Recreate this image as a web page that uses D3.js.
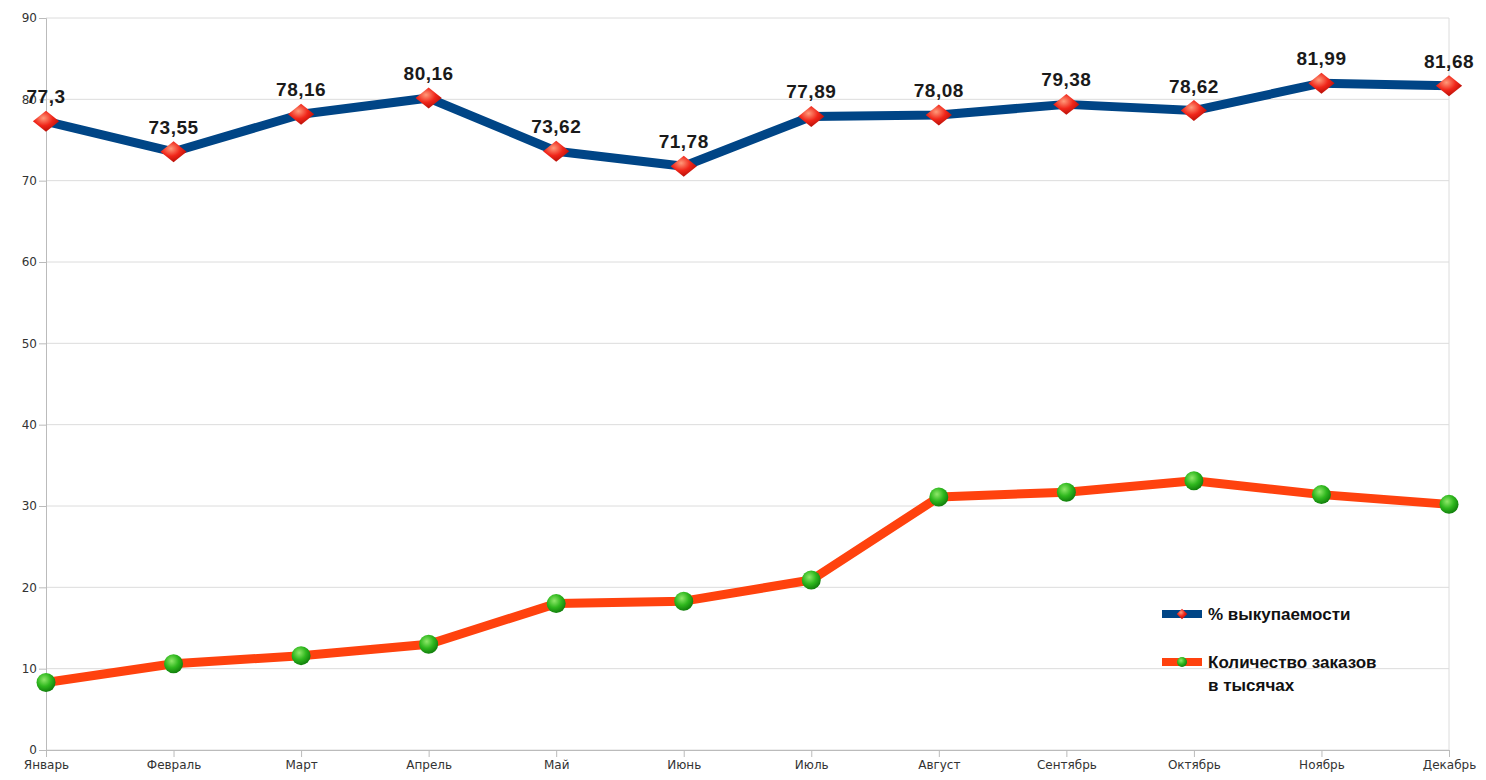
<!DOCTYPE html>
<html>
<head>
<meta charset="utf-8">
<script src="https://cdn.jsdelivr.net/npm/d3@7"></script>
<style>
  body { margin: 0; background: #fff; }
  svg { display: block; }
  .tick text { font-family: 'DejaVu Sans', sans-serif; font-size: 12px; fill: #333; }
  .value-label { font-family: 'Liberation Sans', 'DejaVu Sans', sans-serif; font-size: 19px; font-weight: bold; fill: #1a1a1a; letter-spacing: 0.5px; }
  .legend-label { font-family: 'Liberation Sans', 'DejaVu Sans', sans-serif; font-size: 17px; font-weight: bold; fill: #111; }
</style>
</head>
<body>
<svg width="1486" height="780"></svg>
<script>
const months = ['Январь', 'Февраль', 'Март', 'Апрель', 'Май', 'Июнь', 'Июль', 'Август', 'Сентябрь', 'Октябрь', 'Ноябрь', 'Декабрь']
const buyoutPct = [77.3, 73.55, 78.16, 80.16, 73.62, 71.78, 77.89, 78.08, 79.38, 78.62, 81.99, 81.68]
const ordersK = [8.3, 10.6, 11.6, 13.0, 18.0, 18.3, 20.9, 31.1, 31.7, 33.1, 31.4, 30.2]
const yTicks = [0, 10, 20, 30, 40, 50, 60, 70, 80, 90]
const seriesNames = ['% выкупаемости', 'Количество заказов', 'в тысячах']

const svg = d3.select('svg')
const margin = {left: 46, right: 37, top: 18, bottom: 30}
const width = +svg.attr('width')
const height = +svg.attr('height')
const innerWidth = width - margin.left - margin.right
const innerHeight = height - margin.top - margin.bottom

const defs = svg.append('defs')
const redGrad = defs.append('radialGradient').attr('id', 'redG')
  .attr('cx', '40%').attr('cy', '35%').attr('r', '65%')
redGrad.append('stop').attr('offset', '0%').attr('stop-color', '#ff9a7a')
redGrad.append('stop').attr('offset', '55%').attr('stop-color', '#f0261a')
redGrad.append('stop').attr('offset', '100%').attr('stop-color', '#b81008')
const greenGrad = defs.append('radialGradient').attr('id', 'greenG')
  .attr('cx', '40%').attr('cy', '35%').attr('r', '65%')
greenGrad.append('stop').attr('offset', '0%').attr('stop-color', '#8fe86a')
greenGrad.append('stop').attr('offset', '55%').attr('stop-color', '#2fb81e')
greenGrad.append('stop').attr('offset', '100%').attr('stop-color', '#12800c')

const xScale = d3.scalePoint()
  .domain(months)
  .range([0, innerWidth])
  .padding(0)

const yScale = d3.scaleLinear()
  .domain([0, 90])
  .range([innerHeight, 0])

const g = svg.append('g')
  .attr('transform', `translate(${margin.left}, ${margin.top})`)

// grid
g.append('g')
  .selectAll('line')
  .data(yTicks)
  .enter()
  .append('line')
  .attr('x1', 0)
  .attr('x2', innerWidth)
  .attr('y1', d => yScale(d))
  .attr('y2', d => yScale(d))
  .attr('stroke', '#dcdcdc')
  .attr('stroke-width', 1)

g.append('line')
  .attr('x1', innerWidth).attr('x2', innerWidth)
  .attr('y1', 0).attr('y2', innerHeight)
  .attr('stroke', '#dcdcdc')

const yAxisG = g.append('g')
  .call(d3.axisLeft(yScale).tickValues(yTicks).tickSize(7).tickPadding(2))
yAxisG.selectAll('.domain, .tick line').attr('stroke', '#bbb')

const xAxisG = g.append('g')
  .attr('transform', `translate(0, ${innerHeight})`)
  .call(d3.axisBottom(xScale).tickSize(7).tickPadding(3))
xAxisG.selectAll('.domain, .tick line').attr('stroke', '#bbb')
xAxisG.selectAll('.tick text').attr('dy', '0.75em')

const line = d3.line()
  .x((d, i) => xScale(months[i]))
  .y(d => yScale(d))

g.append('path')
  .datum(ordersK)
  .attr('fill', 'none')
  .attr('stroke', '#ff420e')
  .attr('stroke-width', 9)
  .attr('stroke-linejoin', 'round')
  .attr('d', line)

g.append('path')
  .datum(buyoutPct)
  .attr('fill', 'none')
  .attr('stroke', '#004586')
  .attr('stroke-width', 9)
  .attr('stroke-linejoin', 'round')
  .attr('d', line)

const diamond = d3.symbol().type(d3.symbolDiamond2).size(280)

g.selectAll('.red-mark')
  .data(buyoutPct)
  .enter()
  .append('path')
  .attr('class', 'red-mark')
  .attr('d', diamond)
  .attr('transform', (d, i) => `translate(${xScale(months[i])}, ${yScale(d)}) scale(1.25, 1)`)
  .attr('fill', 'url(#redG)')

g.selectAll('.green-mark')
  .data(ordersK)
  .enter()
  .append('circle')
  .attr('class', 'green-mark')
  .attr('cx', (d, i) => xScale(months[i]))
  .attr('cy', d => yScale(d))
  .attr('r', 9.5)
  .attr('fill', 'url(#greenG)')

g.selectAll('.value-label')
  .data(buyoutPct)
  .enter()
  .append('text')
  .attr('class', 'value-label')
  .attr('x', (d, i) => xScale(months[i]))
  .attr('y', d => yScale(d) - 18)
  .attr('text-anchor', 'middle')
  .text(d => String(d).replace('.', ','))

// legend
const legend = svg.append('g')
  .attr('transform', 'translate(1162, 614)')

legend.append('rect')
  .attr('x', 0).attr('y', -4).attr('width', 40).attr('height', 8)
  .attr('fill', '#004586')
legend.append('path')
  .attr('d', d3.symbol().type(d3.symbolDiamond2).size(70))
  .attr('transform', 'translate(20, 0)')
  .attr('fill', 'url(#redG)')
legend.append('text')
  .attr('class', 'legend-label')
  .attr('x', 46).attr('y', 6)
  .text(seriesNames[0])

legend.append('rect')
  .attr('x', 0).attr('y', 44).attr('width', 40).attr('height', 8)
  .attr('fill', '#ff420e')
legend.append('circle')
  .attr('cx', 20).attr('cy', 48).attr('r', 5)
  .attr('fill', 'url(#greenG)')
legend.append('text')
  .attr('class', 'legend-label')
  .attr('x', 46).attr('y', 54)
  .text(seriesNames[1])
legend.append('text')
  .attr('class', 'legend-label')
  .attr('x', 46).attr('y', 77)
  .text(seriesNames[2])
</script>
</body>
</html>
